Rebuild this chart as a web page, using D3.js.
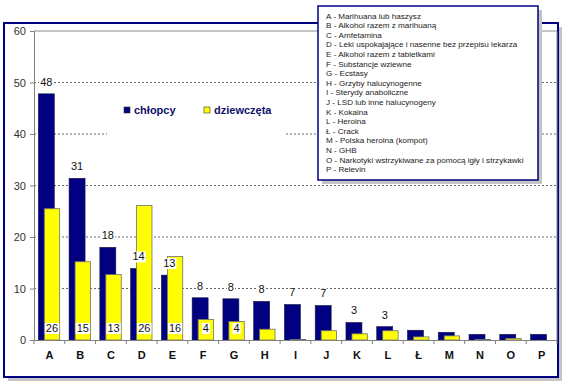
<!DOCTYPE html>
<html>
<head>
<meta charset="utf-8">
<script src="https://cdn.jsdelivr.net/npm/d3@7"></script>
<style>
  body { margin: 0; background: #fff; }
  svg { display: block; font-family: "Liberation Sans", Arial, sans-serif; }
</style>
</head>
<body>
<div id="chart"></div>
<script>
// --- Data ---
const categories = ["A","B","C","D","E","F","G","H","I","J","K","L","Ł","M","N","O","P"];
const chlopcy    = [47.8, 31.4, 18.0, 13.9, 12.6, 8.2, 8.0, 7.5, 6.9, 6.7, 3.4, 2.6, 1.9, 1.5, 1.1, 1.1, 1.1];
const dziewczeta = [25.5, 15.2, 12.7, 26.1, 16.2, 4.0, 3.6, 2.1, 0.1, 1.8, 1.2, 1.8, 0.6, 0.8, 0.1, 0.3, 0];
const chlopcyLabels    = ["48","31","18","14","13","8","8","8","7","7","3","3"];
const dziewczetaLabels = ["26","15","13","26","16","4","4"];
const yTicks = [0, 10, 20, 30, 40, 50, 60];
const seriesNames = ["chłopcy", "dziewczęta"];
const legendItems = [
  "A - Marihuana lub haszysz",
  "B - Alkohol razem z marihuaną",
  "C - Amfetamina",
  "D - Leki uspokajające i nasenne bez przepisu lekarza",
  "E - Alkohol razem z tabletkami",
  "F - Substancje wziewne",
  "G - Ecstasy",
  "H - Grzyby halucynogenne",
  "I - Sterydy anaboliczne",
  "J - LSD lub inne halucynogeny",
  "K - Kokaina",
  "L - Heroina",
  "Ł - Crack",
  "M - Polska heroina (kompot)",
  "N - GHB",
  "O - Narkotyki wstrzykiwane za pomocą igły i strzykawki",
  "P - Relevin"
];

// --- Dimensions ---
const W = 570, H = 389;
const plot = { left: 34, right: 557, top: 31, bottom: 340 };
const navy = "#000080", yellow = "#ffff00";

const svg = d3.select("#chart").append("svg")
  .attr("width", W).attr("height", H);

// --- Outer frame with shadow ---
svg.append("rect").attr("x", 8).attr("y", 27).attr("width", 554).attr("height", 354)
  .attr("fill", "#c4c4c4");
svg.append("rect").attr("x", 4).attr("y", 23).attr("width", 554).attr("height", 354)
  .attr("fill", "#fff").attr("stroke", navy).attr("stroke-width", 2);

// --- Scales ---
const x = d3.scaleBand().domain(categories).range([plot.left, plot.right]).padding(0);
const y = d3.scaleLinear().domain([0, 60]).range([plot.bottom, plot.top]);
const bw = x.bandwidth();

// --- Gridlines ---
svg.append("g").selectAll("line")
  .data(yTicks.filter(d => d > 0 && d < 60))
  .enter().append("line")
  .attr("x1", plot.left).attr("x2", plot.right)
  .attr("y1", d => y(d)).attr("y2", d => y(d))
  .attr("stroke", "#666").attr("stroke-width", 1)
  .attr("stroke-dasharray", "2,2");

// plot area border (top, right)
svg.append("path")
  .attr("d", `M${plot.left},${plot.top}H${plot.right}V${plot.bottom}`)
  .attr("fill", "none").attr("stroke", "#8a8a8a").attr("stroke-width", 1);

// --- Series legend (white box hides gridline) ---
svg.append("rect").attr("x", 107).attr("y", 92).attr("width", 178).attr("height", 46).attr("fill", "#fff");
const sl = svg.append("g");
[[124, navy], [204, yellow]].forEach(([lx, c], i) => {
  sl.append("rect").attr("x", lx).attr("y", 107).attr("width", 6).attr("height", 6)
    .attr("fill", c).attr("stroke", "#333").attr("stroke-width", 0.6);
  sl.append("text").attr("x", lx + 10).attr("y", 114)
    .attr("font-size", 11).attr("font-weight", "bold").attr("fill", "#10106a")
    .text(seriesNames[i]);
});

// --- Bars ---
svg.append("g").selectAll("rect")
  .data(chlopcy)
  .enter().append("rect")
  .attr("x", (d, i) => x(categories[i]) + bw * 0.14)
  .attr("y", d => y(d))
  .attr("width", bw * 0.52)
  .attr("height", d => y(0) - y(d))
  .attr("fill", navy).attr("stroke", "#1a1a40").attr("stroke-width", 0.6);

svg.append("g").selectAll("rect")
  .data(dziewczeta)
  .enter().append("rect")
  .attr("x", (d, i) => x(categories[i]) + bw * 0.335)
  .attr("y", d => y(d))
  .attr("width", bw * 0.5)
  .attr("height", d => y(0) - y(d))
  .attr("fill", yellow).attr("stroke", "#707070").attr("stroke-width", 0.8);

// --- Axes ---
const yAxis = svg.append("g")
  .attr("transform", `translate(${plot.left},0)`)
  .call(d3.axisLeft(y).tickValues(yTicks).tickSize(4).tickPadding(4));
yAxis.select(".domain").attr("stroke", "#808080");
yAxis.selectAll(".tick line").attr("stroke", "#808080");
yAxis.selectAll(".tick text").attr("font-size", 11).attr("fill", "#333")
  .attr("font-family", "Liberation Sans, Arial, sans-serif");

const xAxis = svg.append("g")
  .attr("transform", `translate(0,${plot.bottom})`)
  .call(d3.axisBottom(x).tickSize(0).tickPadding(11));
xAxis.select(".domain").attr("stroke", "#808080");
xAxis.selectAll(".tick text").attr("font-size", 11).attr("font-weight", "bold").attr("fill", "#111")
  .attr("font-family", "Liberation Sans, Arial, sans-serif");
xAxis.selectAll(".bound")
  .data(d3.range(categories.length + 1))
  .enter().append("line")
  .attr("x1", i => plot.left + i * bw).attr("x2", i => plot.left + i * bw)
  .attr("y1", 0).attr("y2", 4)
  .attr("stroke", "#808080");

// --- Data labels ---
function addLabel(cx, baseline, txt) {
  const g = svg.append("g");
  const t = g.append("text").attr("x", cx).attr("y", baseline)
    .attr("text-anchor", "middle").attr("font-size", 11).attr("fill", "#111")
    .text(txt);
  const b = t.node().getBBox();
  g.insert("rect", "text").attr("x", b.x - 1).attr("y", b.y + 1)
    .attr("width", b.width + 2).attr("height", b.height - 1).attr("fill", "#fff");
}
chlopcyLabels.forEach((lab, i) => {
  addLabel(x(categories[i]) + bw * 0.4, y(chlopcy[i]) - 8, lab);
});
dziewczetaLabels.forEach((lab, i) => {
  addLabel(x(categories[i]) + bw * 0.585, 332, lab);
});

// --- Category legend box ---
svg.append("rect").attr("x", 322).attr("y", 10).attr("width", 220).attr("height", 174).attr("fill", "#c4c4c4");
svg.append("rect").attr("x", 318).attr("y", 6).attr("width", 220).attr("height", 174)
  .attr("fill", "#fff").attr("stroke", navy).attr("stroke-width", 1.5);
svg.append("g").selectAll("text")
  .data(legendItems)
  .enter().append("text")
  .attr("x", 326)
  .attr("y", (d, i) => 18.5 + i * 9.6)
  .attr("font-size", 8.1).attr("fill", "#222")
  .text(d => d);
</script>
</body>
</html>
